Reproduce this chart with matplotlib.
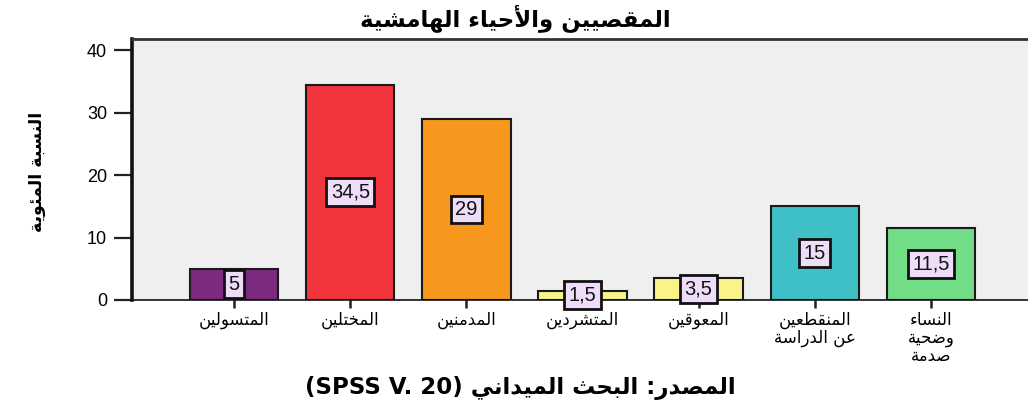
import matplotlib
matplotlib.use("Agg")
import matplotlib.pyplot as plt

# ---------------- data ----------------
categories = ["المتسولين", "المختلين", "المدمنين", "المتشردين", "المعوقين",
              "المنقطعين\nعن الدراسة", "النساء\nوضحية\nصدمة"]
values = [5, 34.5, 29, 1.5, 3.5, 15, 11.5]
value_labels = ["5", "34,5", "29", "1,5", "3,5", "15", "11,5"]
bar_colors = ["#7b2a7d", "#f2343c", "#f7971e", "#f8f48a", "#f8f48a", "#3fbfc6", "#72dc86"]
yticks = [0, 10, 20, 30, 40]
title_text = "المقصيين والأحياء الهامشية"
ylabel_text = "النسبة المئوية"
caption_ar = "المصدر: البحث الميداني"
caption_lat = "(SPSS V. 20)"

# ---------------- Arabic shaping (presentation forms) ----------------
def _f(base, n):
    return tuple(chr(base + k) for k in range(n))

FORMS = {
    'ء': _f(0xFE80, 1), 'آ': _f(0xFE81, 2), 'أ': _f(0xFE83, 2), 'ؤ': _f(0xFE85, 2),
    'إ': _f(0xFE87, 2), 'ئ': _f(0xFE89, 4), 'ا': _f(0xFE8D, 2), 'ب': _f(0xFE8F, 4),
    'ة': _f(0xFE93, 2), 'ت': _f(0xFE95, 4), 'ث': _f(0xFE99, 4), 'ج': _f(0xFE9D, 4),
    'ح': _f(0xFEA1, 4), 'خ': _f(0xFEA5, 4), 'د': _f(0xFEA9, 2), 'ذ': _f(0xFEAB, 2),
    'ر': _f(0xFEAD, 2), 'ز': _f(0xFEAF, 2), 'س': _f(0xFEB1, 4), 'ش': _f(0xFEB5, 4),
    'ص': _f(0xFEB9, 4), 'ض': _f(0xFEBD, 4), 'ط': _f(0xFEC1, 4), 'ظ': _f(0xFEC5, 4),
    'ع': _f(0xFEC9, 4), 'غ': _f(0xFECD, 4), 'ف': _f(0xFED1, 4), 'ق': _f(0xFED5, 4),
    'ك': _f(0xFED9, 4), 'ل': _f(0xFEDD, 4), 'م': _f(0xFEE1, 4), 'ن': _f(0xFEE5, 4),
    'ه': _f(0xFEE9, 4), 'و': _f(0xFEED, 2), 'ى': _f(0xFEEF, 2), 'ي': _f(0xFEF1, 4),
}
LAM_ALEF = {'آ': _f(0xFEF5, 2), 'أ': _f(0xFEF7, 2), 'إ': _f(0xFEF9, 2), 'ا': _f(0xFEFB, 2)}


def shape_line(text):
    out = []
    i, n = 0, len(text)
    prev_joins = False
    while i < n:
        c = text[i]
        if c == 'ل' and i + 1 < n and text[i + 1] in LAM_ALEF:
            iso, fin = LAM_ALEF[text[i + 1]]
            out.append(fin if prev_joins else iso)
            prev_joins = False
            i += 2
            continue
        if c in FORMS:
            f = FORMS[c]
            nxt = text[i + 1] if i + 1 < n else None
            can_next = len(f) == 4 and nxt in FORMS and nxt != 'ء'
            if len(f) == 1:
                g = f[0]
            elif prev_joins and can_next:
                g = f[3]
            elif prev_joins:
                g = f[1]
            elif can_next:
                g = f[2]
            else:
                g = f[0]
            out.append(g)
            prev_joins = can_next
        else:
            out.append(c)
            prev_joins = False
        i += 1
    return ''.join(out)[::-1]


def ar(text):
    return "\n".join(shape_line(line) for line in text.split("\n"))


# ---------------- figure ----------------
W, H = 1028, 412
fig = plt.figure(figsize=(W / 100, H / 100), dpi=100)
fig.patch.set_facecolor("white")

ax_left, ax_right, ax_top, ax_bottom = 132, 1033, 39, 300
ax = fig.add_axes([ax_left / W, (H - ax_bottom) / H,
                   (ax_right - ax_left) / W, (ax_bottom - ax_top) / H])
ax.set_facecolor("#efefef")

x = list(range(len(values)))
ax.bar(x, values, width=0.76, color=bar_colors, edgecolor="#1a1a1a", linewidth=1.5, zorder=2)

for xi, v, lab in zip(x, values, value_labels):
    ax.text(xi, v / 2, lab, ha="center", va="center", fontsize=14.5,
            family="Liberation Sans", color="#111111", zorder=4,
            bbox=dict(boxstyle="square,pad=0.22", facecolor="#eedcf8",
                      edgecolor="#111111", linewidth=2.0))

ax.set_xlim(-0.88, 6.88)
ax.set_ylim(0, 41.8)
ax.set_yticks(yticks)
ax.set_yticklabels([str(t) for t in yticks], family="Liberation Sans", fontsize=13)
ax.set_xticks(x)
ax.set_xticklabels([ar(c) for c in categories], family="DejaVu Sans", fontsize=12,
                   linespacing=1.0)

ax.tick_params(axis="y", length=13, width=1.6, color="#222222", pad=5)
ax.tick_params(axis="x", length=6, width=1.8, color="#222222", pad=2)

ax.spines["right"].set_visible(False)
ax.spines["left"].set_linewidth(2.6)
ax.spines["left"].set_color("#111111")
ax.spines["bottom"].set_linewidth(1.2)
ax.spines["bottom"].set_color("#111111")
ax.spines["top"].set_linewidth(2.0)
ax.spines["top"].set_color("#333333")

fig.text(515 / W, 1 - 18 / H, ar(title_text), ha="center", va="center",
         fontsize=16.5, fontweight="bold", family="DejaVu Sans")
fig.text(37 / W, 1 - 172 / H, ar(ylabel_text), ha="center", va="center",
         rotation=90, fontsize=12.5, fontweight="bold", family="DejaVu Sans")
fig.text(520 / W, 1 - 388 / H, caption_lat + " " + ar(caption_ar), ha="center", va="center",
         fontsize=16.5, fontweight="bold", family="DejaVu Sans")

fig.savefig("out.png", dpi=100)
